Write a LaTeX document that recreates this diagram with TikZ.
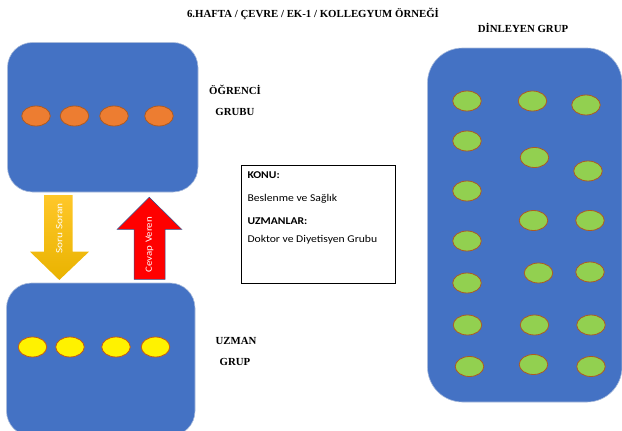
\documentclass[tikz,border=0pt]{standalone}
\usepackage{fontspec}
\setmainfont{Liberation Serif}
\newfontfamily\bodyfont{Carlito}
\usetikzlibrary{shapes.geometric}
\definecolor{panelblue}{HTML}{4472C4}
\definecolor{paneledge}{HTML}{A9BBDB}
\definecolor{orangefill}{HTML}{ED7D31}
\definecolor{orangeedge}{HTML}{AE5A21}
\definecolor{yellowedge}{HTML}{C55A11}
\definecolor{greenfill}{HTML}{92D050}
\definecolor{goldtop}{HTML}{FFC729}
\definecolor{goldbot}{HTML}{E9B300}
\definecolor{arrowedge}{HTML}{2F528F}
\newcommand{\widetext}[1]{\scalebox{1.12}[1]{#1}}
\tikzset{
  panel/.style={fill=panelblue, draw=paneledge, line width=0.6pt},
  dot/.style={ellipse, minimum width=28.5pt, minimum height=20pt, inner sep=0pt, line width=0.8pt},
  orangedot/.style={dot, fill=orangefill, draw=orangeedge},
  yellowdot/.style={dot, fill=yellow, draw=yellowedge},
  greendot/.style={dot, fill=greenfill, draw=orangeedge},
  heading/.style={font=\fontsize{10.8}{12}\selectfont\bfseries, inner sep=0pt},
  boxtext/.style={font=\bodyfont\fontsize{10.4}{12}\selectfont, anchor=west, inner sep=0pt},
  boxhead/.style={boxtext, font=\bodyfont\fontsize{10.4}{12}\selectfont\bfseries},
  arrowtext/.style={font=\bodyfont\fontsize{9.5}{11}\selectfont, text=white, rotate=90, inner sep=0pt}
}
\begin{document}
\begin{tikzpicture}[x=1pt, y=-1pt]
\useasboundingbox (0,0) rectangle (622,431);

% title and group captions
\node[heading] (title) at (313,14) {6.HAFTA / ÇEVRE / EK-1 / KOLLEGYUM ÖRNEĞİ};
\node[heading] (dinleyen) at (523,28) {DİNLEYEN GRUP};
\node[heading] (ogr1) at (235,90) {ÖĞRENCİ};
\node[heading] (ogr2) at (235,112) {GRUBU};
\node[heading] (uzm1) at (236,341) {UZMAN};
\node[heading] (uzm2) at (235,362) {GRUP};

% student group panel
\draw[panel, rounded corners=25pt] (7.5,42.5) rectangle (198,192);
\foreach \x [count=\i] in {36,74.5,114,159}
  \node[orangedot] (o\i) at (\x,116) {};

% expert group panel
\draw[panel, rounded corners=25pt] (6.5,283) rectangle (195,436);
\foreach \x [count=\i] in {32.5,70,116,155.5}
  \node[yellowdot] (y\i) at (\x,347) {};

% listening group panel
\draw[panel, rounded corners=35pt] (427.5,48) rectangle (622,402);
\foreach \x/\y [count=\i] in {
  467/101, 532.5/101, 586/105,
  467/141, 534.5/157.5, 588/171,
  467/191, 533.5/220.5, 590/220.5,
  467/241, 538.5/273, 590/272,
  467/283,
  467.5/325, 534.5/325, 591/325,
  469.5/366.5, 533.5/364.5, 591/366.5}
  \node[greendot] (g\i) at (\x,\y) {};

% downward arrow: questions
\shade[top color=goldtop, bottom color=goldbot]
  (44,195) -- (72.7,195) -- (72.7,251.7) -- (89,251.7) -- (59.3,280)
  -- (30,251.7) -- (44,251.7) -- cycle;
\node[arrowtext] (soru) at (59.3,228.3) {\scalebox{1.19}[1]{Soru Soran}};

% upward arrow: answers
\draw[fill=red, draw=arrowedge, line width=0.5pt]
  (134,279.3) -- (134,229.3) -- (117.3,229.3) -- (149.3,197.3)
  -- (181.7,229.3) -- (165,229.3) -- (165,279.3) -- cycle;
\node[arrowtext] (cevap) at (149.5,244.7) {\scalebox{1.15}[1]{Cevap Veren}};

% topic box
\draw[line width=0.6pt] (241.7,165) rectangle (395.7,283.3);
\node[boxhead] (konu) at (247.3,175) {\widetext{KONU:}};
\node[boxtext] (konutxt) at (247.3,198.3) {\widetext{Beslenme ve Sağlık}};
\node[boxhead] (uzmanlar) at (247.3,221) {\widetext{UZMANLAR:}};
\node[boxtext] (uzmantxt) at (247.3,240) {\widetext{Doktor ve Diyetisyen Grubu}};
\end{tikzpicture}
\end{document}
